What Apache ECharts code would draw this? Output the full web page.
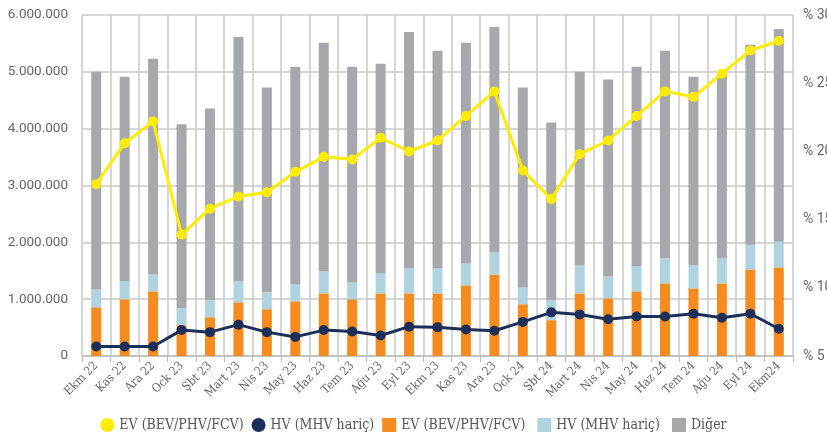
<!DOCTYPE html>
<html>
<head>
<meta charset="utf-8">
<script src="https://cdn.jsdelivr.net/npm/echarts@6/dist/echarts.min.js"></script>
<style>
  html, body { margin: 0; padding: 0; background: #fff; }
  #main { width: 827px; height: 433px; }
</style>
</head>
<body>
<div id="main"></div>
<script>
// aylar
let months = ['Ekm 22', 'Kas 22', 'Ara 22', 'Ock 23', 'Şbt 23', 'Mart 23', 'Nis 23', 'May 23', 'Haz 23', 'Tem 23', 'Ağu 23', 'Eyl 23', 'Ekm 23',
    'Kas 23', 'Ara 23', 'Ock 24', 'Şbt 24', 'Mart 24', 'Nis 24', 'May 24', 'Haz 24', 'Tem 24', 'Ağu 24', 'Eyl 24', 'Ekm24'];

// adet (yigin cubuklar)
let evSales = [857000, 997000, 1137000, 542000, 682000, 945000, 822000, 962000, 1102000, 997000, 1102000, 1102000, 1102000,
    1242000, 1434000, 910000, 630000, 1102000, 1015000, 1137000, 1277000, 1190000, 1277000, 1522000, 1557000];
let hvSales = [315000, 315000, 297000, 298000, 298000, 367000, 298000, 298000, 385000, 297000, 350000, 437000, 437000,
    385000, 385000, 297000, 350000, 490000, 385000, 437000, 437000, 402000, 437000, 437000, 455000];
let otherSales = [3831000, 3603000, 3796000, 3236000, 3376000, 4303000, 3603000, 3830000, 4023000, 3796000, 3691000, 4164000, 3831000,
    3883000, 3971000, 3516000, 3130000, 3411000, 3463000, 3516000, 3656000, 3323000, 3254000, 3516000, 3743000];

// pay (%) - sag eksen
let evShare = [17.6, 20.6, 22.2, 13.9, 15.8, 16.7, 17.0, 18.5, 19.6, 19.4, 21.0, 20.0, 20.8,
    22.6, 24.4, 18.6, 16.5, 19.8, 20.8, 22.6, 24.4, 24.0, 25.7, 27.4, 28.1];
let hvShare = [5.7, 5.7, 5.7, 6.9, 6.75, 7.3, 6.75, 6.4, 6.9, 6.8, 6.5, 7.15, 7.1,
    6.95, 6.85, 7.5, 8.2, 8.05, 7.7, 7.9, 7.9, 8.1, 7.8, 8.1, 7.0];

let leftTicks = [0, 1000000, 2000000, 3000000, 4000000, 5000000, 6000000];
let rightTicks = [5, 10, 15, 20, 25, 30];

let myChart = echarts.init(document.getElementById('main'));

let serifFont = '"DejaVu Serif Condensed", "DejaVu Serif", serif';

let option = {
    backgroundColor: '#fff',
    animation: false,
    grid: {
        left: 82,
        right: 34,
        top: 15,
        bottom: 77,
        outerBoundsMode: 'none',
        containLabel: false
    },
    legend: {
        bottom: -4,
        left: 'center',
        itemGap: 8,
        itemWidth: 14,
        itemHeight: 14,
        textStyle: {
            color: '#555',
            fontFamily: serifFont,
            fontSize: 14
        },
        data: [
            { name: 'EV (BEV/PHV/FCV)', icon: 'circle' },
            { name: 'HV (MHV hariç)', icon: 'circle' },
            { name: 'EV (BEV/PHV/FCV) ', icon: 'rect' },
            { name: 'HV (MHV hariç) ', icon: 'rect' },
            { name: 'Diğer', icon: 'rect' }
        ]
    },
    xAxis: {
        type: 'category',
        data: months,
        boundaryGap: true,
        axisLine: { lineStyle: { color: '#bdbdbd', width: 1.5 } },
        axisTick: { show: true, length: 6, lineStyle: { color: '#bdbdbd' } },
        splitLine: { show: true, lineStyle: { color: '#c8c8c8', width: 1.5 } },
        axisLabel: {
            rotate: 45,
            interval: 0,
            color: '#666',
            fontFamily: serifFont,
            fontSize: 12,
            margin: 8
        }
    },
    yAxis: [
        {
            type: 'value',
            min: leftTicks[0],
            max: leftTicks[leftTicks.length - 1],
            interval: 1000000,
            axisLine: { show: false },
            axisTick: { show: false },
            splitLine: { lineStyle: { color: '#c8c8c8', width: 1.5 } },
            axisLabel: {
                color: '#666',
                fontFamily: 'Roboto, sans-serif',
                fontSize: 13.5,
                margin: 14,
                formatter: function (v) {
                    return String(v).replace(/\B(?=(\d{3})+(?!\d))/g, '.');
                }
            }
        },
        {
            type: 'value',
            min: rightTicks[0],
            max: rightTicks[rightTicks.length - 1],
            interval: 5,
            axisLine: { show: false },
            axisTick: { show: false },
            splitLine: { show: false },
            axisLabel: {
                color: '#666',
                fontFamily: 'Roboto, sans-serif',
                fontSize: 14,
                margin: 10,
                formatter: '% {value}'
            }
        }
    ],
    series: [
        {
            name: 'EV (BEV/PHV/FCV) ',
            type: 'bar',
            stack: 'adet',
            barWidth: 10,
            itemStyle: { color: '#f68b1f' },
            data: evSales
        },
        {
            name: 'HV (MHV hariç) ',
            type: 'bar',
            stack: 'adet',
            barWidth: 10,
            itemStyle: { color: '#afd3df' },
            data: hvSales
        },
        {
            name: 'Diğer',
            type: 'bar',
            stack: 'adet',
            barWidth: 10,
            itemStyle: { color: '#a7a8ac' },
            data: otherSales
        },
        {
            name: 'EV (BEV/PHV/FCV)',
            type: 'line',
            yAxisIndex: 1,
            symbol: 'circle',
            symbolSize: 10,
            lineStyle: { color: '#ffec00', width: 3 },
            itemStyle: { color: '#ffec00' },
            z: 5,
            data: evShare
        },
        {
            name: 'HV (MHV hariç)',
            type: 'line',
            yAxisIndex: 1,
            symbol: 'circle',
            symbolSize: 10,
            lineStyle: { color: '#1b2f5b', width: 3 },
            itemStyle: { color: '#1b2f5b' },
            z: 5,
            data: hvShare
        }
    ]
};

myChart.setOption(option);
</script>
</body>
</html>
